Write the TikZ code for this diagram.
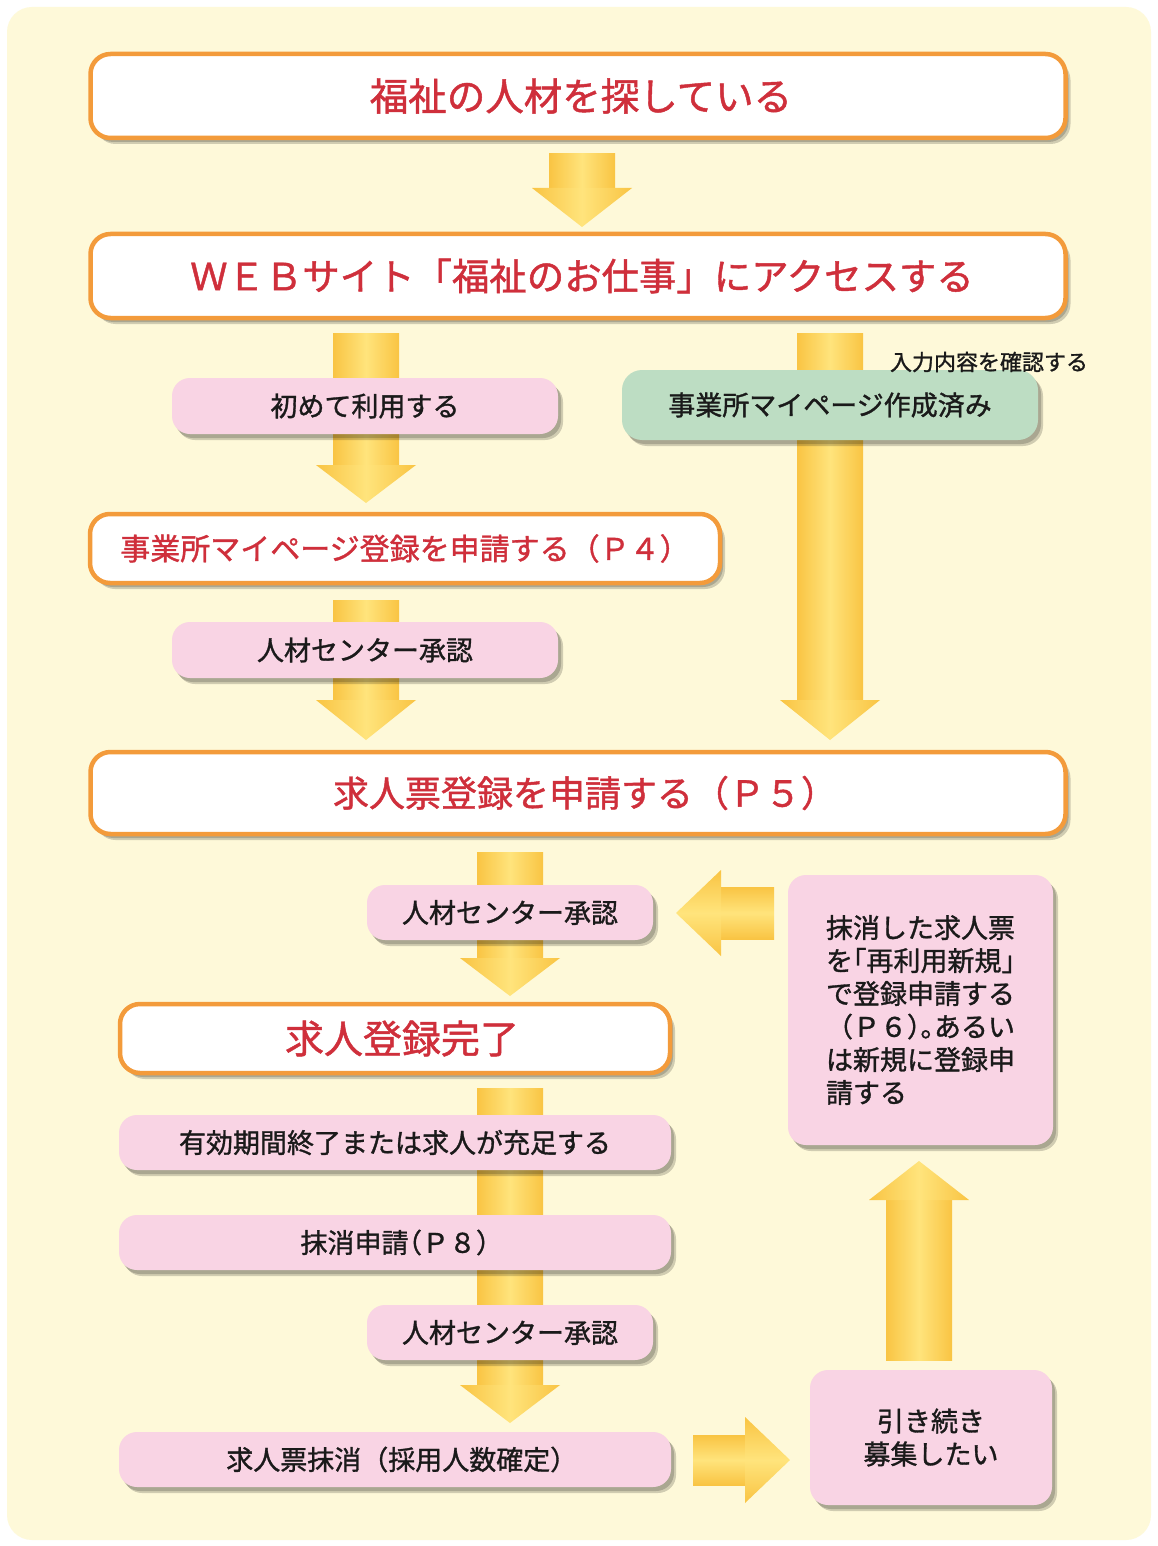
\documentclass[tikz,border=0pt]{standalone}
\usepackage{fontspec}
\setmainfont{Noto Sans CJK JP}[FakeBold=1.2]
\usetikzlibrary{shadows}
\definecolor{bgyellow}{HTML}{FEF9D9}
\definecolor{orangeline}{HTML}{F39B3B}
\definecolor{redtext}{HTML}{CF2F3B}
\definecolor{pinkfill}{HTML}{F9D4E4}
\definecolor{greenfill}{HTML}{BDDDC3}
\definecolor{arrowdark}{HTML}{F9C443}
\definecolor{arrowlight}{HTML}{FFE47C}
\definecolor{textblack}{HTML}{1A1A1A}
\newcommand{\vshaft}[4]{\shade[left color=arrowdark, right color=arrowdark, middle color=arrowlight] (#1-#4,#2) rectangle (#1+#4,#3);}
\newcommand{\vhead}[4]{\shade[left color=arrowdark, right color=arrowdark, middle color=arrowlight] (#1-#4,#2) -- (#1+#4,#2) -- (#1,#3) -- cycle;}
\newcommand{\hshaft}[4]{\shade[top color=arrowdark, bottom color=arrowdark, middle color=arrowlight] (#2,#1-#4) rectangle (#3,#1+#4);}
\newcommand{\hhead}[4]{\shade[top color=arrowdark, bottom color=arrowdark, middle color=arrowlight] (#2,#1-#4) -- (#2,#1+#4) -- (#3,#1) -- cycle;}
\newcommand{\halfl}[1]{\makebox[13.5pt][l]{#1}}
\newcommand{\halfr}[1]{\makebox[13.5pt][r]{#1}}
\tikzset{
  boxshadow/.style={
    general shadow={fill=black, opacity=0.18, shadow xshift=3pt, shadow yshift=-4pt},
    general shadow={fill=black, opacity=0.18, shadow xshift=5pt, shadow yshift=-6pt}},
  mainbox/.style={draw=orangeline, line width=4.5pt, fill=white, rounded corners=20pt,
    text=redtext, inner sep=0pt, boxshadow},
  pinkbox/.style={fill=pinkfill, rounded corners=18pt, text=textblack, inner sep=0pt,
    font=\fontsize{27}{33}\selectfont, boxshadow},
  greenbox/.style={pinkbox, fill=greenfill, rounded corners=20pt},
  notetext/.style={font=\fontsize{22}{24}\selectfont, text=textblack, inner sep=0pt}
}
\begin{document}
\begin{tikzpicture}[x=1pt,y=-1pt]
\fill[white] (0,0) rectangle (1157,1546);
\useasboundingbox (0,0) rectangle (1157,1546);
\fill[bgyellow, rounded corners=25pt] (7,7) rectangle (1151,1540);

% fat arrows
\vshaft{582}{154}{190}{33}\vhead{582}{188}{227}{50}
\vshaft{366}{333}{467}{33}\vhead{366}{465}{503}{50}
\vshaft{830}{333}{702}{33}\vhead{830}{700}{740}{50}
\vshaft{366}{600}{702}{33}\vhead{366}{700}{740}{50}
\vshaft{510}{852}{960}{33}\vhead{510}{958}{996}{50}
\vshaft{510}{1088}{1387}{33}\vhead{510}{1385}{1423}{50}
\vshaft{919}{1360}{1198}{33}\vhead{919}{1200}{1161}{50}
\hshaft{1460}{693}{747}{25}\hhead{1460}{745}{790}{43}
\hshaft{913}{774}{719}{26}\hhead{913}{721}{676}{43}

% boxes
\node[mainbox, minimum width=975pt, minimum height=84pt, font=\fontsize{38.5}{40}\selectfont] (seek) at (578,96) {\hspace*{6pt}福祉の人材を探している};
\node[mainbox, minimum width=975pt, minimum height=84pt, font=\fontsize{37.4}{40}\selectfont] (web) at (578,276) {\hspace*{8pt}ＷＥＢサイト「福祉のお仕事」にアクセスする};
\node[pinkbox, minimum width=386pt, minimum height=56pt] (first) at (365,406) {初めて利用する};
\node[greenbox, minimum width=416pt, minimum height=70pt] (mypage) at (830,405) {事業所マイページ作成済み};
\node[notetext] (check) at (989,362) {入力内容を確認する};
\node[mainbox, minimum width=630pt, minimum height=69pt, font=\fontsize{30}{32}\selectfont] (apply) at (405,548.5) {事業所マイページ登録を申請する（Ｐ４）};
\node[pinkbox, minimum width=386pt, minimum height=56pt] (ok1) at (365,650) {人材センター承認};
\node[mainbox, minimum width=975pt, minimum height=82pt, font=\fontsize{36}{38}\selectfont] (post) at (578,793) {\hspace*{14pt}求人票登録を申請する（Ｐ５）};
\node[pinkbox, minimum width=286pt, minimum height=55pt] (ok2) at (510,912.5) {人材センター承認};
\node[pinkbox, minimum width=265pt, minimum height=270pt, align=left] (reuse) at (920.5,1010) {抹消した求人票\\を\halfr{「}再利用新規\halfl{」}\\で登録申請する\\（Ｐ６\halfl{）}\halfl{。}あるい\\は新規に登録申\\請する};
\node[mainbox, minimum width=550pt, minimum height=69pt, font=\fontsize{39}{40}\selectfont] (done) at (395,1038.5) {\hspace*{14pt}求人登録完了};
\node[pinkbox, minimum width=552pt, minimum height=55pt] (expire) at (395,1142.5) {有効期間終了または求人が充足する};
\node[pinkbox, minimum width=552pt, minimum height=55pt] (cancel) at (395,1242.5) {抹消申請\halfr{（}Ｐ８\halfl{）}};
\node[pinkbox, minimum width=286pt, minimum height=55pt] (ok3) at (510,1332.5) {人材センター承認};
\node[pinkbox, minimum width=552pt, minimum height=55pt] (removed) at (395,1459.5) {求人票抹消（採用人数確定\halfl{）}};
\node[pinkbox, minimum width=242pt, minimum height=135pt, align=center] (cont) at (931,1437.5) {引き続き\\募集したい};
\end{tikzpicture}
\end{document}
